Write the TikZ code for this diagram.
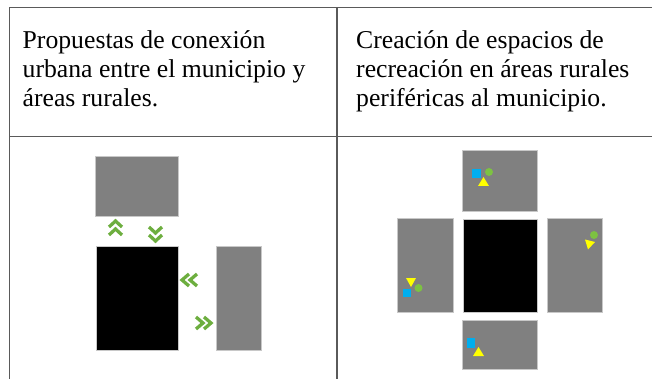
\documentclass[tikz,border=0pt]{standalone}
\usepackage{fontspec}
\setmainfont{Liberation Serif}
\usetikzlibrary{shapes.geometric}
\definecolor{rulegray}{HTML}{5A5A5A}
\definecolor{areagray}{HTML}{808080}
\definecolor{edgegray}{HTML}{C8C8C8}
\definecolor{chevgreen}{HTML}{6DAE3F}
\definecolor{dotgreen}{HTML}{7DC242}
\definecolor{sqblue}{HTML}{00AEEF}
\definecolor{triyellow}{HTML}{FFFF00}
\tikzset{
  rule/.style={draw=rulegray, line width=1.6pt},
  area/.style={fill=areagray, draw=edgegray, line width=0.6pt},
  town/.style={fill=black, draw=edgegray, line width=0.6pt},
  chev/.style={draw=chevgreen, line width=3.3pt, line join=miter},
  cell/.style={anchor=base west, font=\fontsize{25.7}{29}\selectfont, inner sep=0pt},
  sq/.style={fill=sqblue, draw=none},
  dot/.style={fill=dotgreen, draw=none},
  tri/.style={fill=triyellow, draw=none},
}
\begin{document}
\begin{tikzpicture}[x=1pt,y=-1pt]
\useasboundingbox (0,0) rectangle (652,379);
% table rules
\draw[rule] (9.3,379) -- (9.3,7.5) -- (652,7.5);
\draw[rule] (336.7,7.5) -- (336.7,379);
\draw[rule] (9.3,136.5) -- (652,136.5);
% headers
\node[cell] (h1a) at (22.5,49) {Propuestas de conexión};
\node[cell] (h1b) at (22.5,78) {urbana entre el municipio y};
\node[cell] (h1c) at (22.5,107) {áreas rurales.};
\node[cell] (h2a) at (356,49) {Creación de espacios de};
\node[cell] (h2b) at (356,78) {recreación en áreas rurales};
\node[cell] (h2c) at (356,107) {periféricas al municipio.};
% left panel
\path[area] (95,156) rectangle (178,216);
\path[town] (96,246) rectangle (178,350);
\path[area] (216,246) rectangle (261,350);
% up chevrons
\draw[chev] (109,227) -- (115.5,221) -- (122,227);
\draw[chev] (109,235) -- (115.5,229) -- (122,235);
% down chevrons
\draw[chev] (149,227) -- (155.5,233) -- (162,227);
\draw[chev] (149,235) -- (155.5,241) -- (162,235);
% left chevrons
\draw[chev] (189,274) -- (182,280) -- (189,286);
\draw[chev] (197,274) -- (190,280) -- (197,286);
% right chevrons
\draw[chev] (196,317) -- (203,323) -- (196,329);
\draw[chev] (204,317) -- (211,323) -- (204,329);
% right panel
\path[area] (462,150) rectangle (537,211);
\path[town] (463,219) rectangle (537,312);
\path[area] (397,218) rectangle (453,312);
\path[area] (547,218) rectangle (602,312);
\path[area] (462,320) rectangle (537,369);
% symbols top
\path[sq] (472,169) rectangle (480.5,178);
\path[dot] (489,172) circle (4);
\path[tri] (478,186) -- (483.5,177) -- (489,186) -- cycle;
% symbols right
\path[dot] (594,235) circle (4);
\path[tri] (585,239.5) -- (595,242) -- (588,249.5) -- cycle;
% symbols left
\path[tri] (406,278) -- (416,278) -- (411,287) -- cycle;
\path[dot] (418.5,288) circle (4);
\path[sq] (403,288.5) rectangle (411,297);
% symbols bottom
\path[sq] (467,338) rectangle (474.5,348);
\path[tri] (473,356) -- (478.5,347) -- (484,356) -- cycle;
\end{tikzpicture}
\end{document}
